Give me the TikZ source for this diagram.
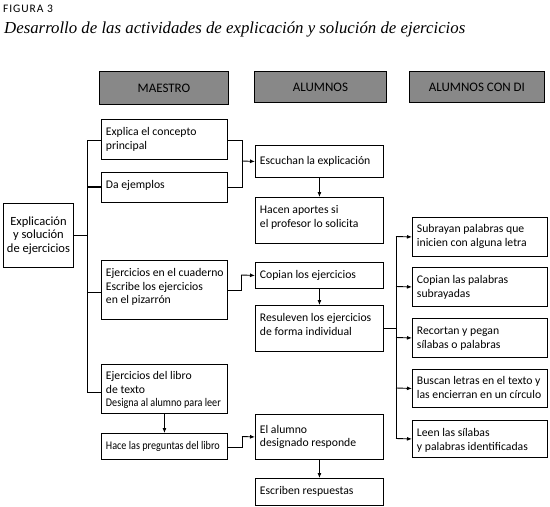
\documentclass[tikz,border=0pt]{standalone}
\usepackage{fontspec}
\usepackage{graphicx}
\setmainfont{Carlito}
\newfontfamily\titlefont{Liberation Serif}
\usetikzlibrary{arrows.meta}
\definecolor{hdrgray}{RGB}{136,136,136}
\newcommand\bt[4][16.5]{\parbox[c][#3pt][t]{#2pt}{\rule{0pt}{#1pt}\begin{tabular}[t]{@{}l@{}}#4\end{tabular}}}
\newcommand\sq[1]{\scalebox{0.87}[1]{#1}}
\tikzset{
  box/.style={draw, line width=0.9pt, anchor=north west, inner xsep=4.5pt, inner ysep=0pt,
    font=\fontsize{11.7}{13.5}\selectfont},
  hdr/.style={draw, line width=0.9pt, fill=hdrgray, anchor=north west, inner sep=0pt,
    font=\fontsize{13}{14}\selectfont},
  conn/.style={line width=0.9pt},
  arr/.style={line width=0.9pt, -{Latex[length=5pt,width=4pt]}}
}
\begin{document}
\begin{tikzpicture}[x=1pt,y=-1pt]
\useasboundingbox (0,0) rectangle (550,507);
% titles
\node[anchor=base west, inner sep=0pt, font=\fontsize{11.5}{13}\selectfont\addfontfeature{LetterSpace=8}] (fig) at (3,12.5) {FIGURA 3};
\node[anchor=base west, inner sep=0pt, font=\titlefont\itshape\fontsize{16.8}{18}\selectfont] (title) at (4,33.5) {Desarrollo de las actividades de explicación y solución de ejercicios};
% headers
\node[hdr, minimum width=129pt, minimum height=33pt] (h1) at (99,71) {MAESTRO};
\node[hdr, minimum width=132pt, minimum height=31pt] (h2) at (254,71) {ALUMNOS};
\node[hdr, minimum width=135pt, minimum height=31pt] (h3) at (409,71) {ALUMNOS CON DI};
% left
\node[draw, line width=0.9pt, anchor=north west, inner sep=0pt, minimum width=70pt, minimum height=64pt,
  align=center, font=\fontsize{12.5}{13.5}\selectfont] (left) at (3,203) {Explicación\\y solución\\de ejercicios};
% maestro column
\node[box] (explica) at (101,119) {\bt{117}{40}{Explica el concepto\\principal}};
\node[box] (daej) at (101,172) {\bt{117}{30}{Da ejemplos}};
\node[box] (cuad) at (101,260) {\bt{117}{59}{Ejercicios en el cuaderno\\Escribe los ejercicios\\en el pizarrón}};
\node[box] (libro) at (101,364) {\bt[15.5]{117}{49}{Ejercicios del libro\\de texto\\\sq{Designa al alumno para leer}}};
\node[box] (hace) at (101,433) {\bt{117}{26}{\sq{Hace las preguntas del libro}}};
% alumnos column
\node[box] (escuchan) at (255,145) {\bt[19]{119}{32}{Escuchan la explicación}};
\node[box] (hacen) at (255,197) {\bt{119}{46}{Hacen aportes si\\el profesor lo solicita}};
\node[box] (copian) at (255,262) {\bt[16]{119}{26}{Copian los ejercicios}};
\node[box] (resuelven) at (255,305) {\bt{119}{46}{Resuleven los ejercicios\\de forma individual}};
\node[box] (alumno) at (255,414) {\bt[19]{119}{45}{El alumno\\designado responde}};
\node[box] (escriben) at (255,478) {\bt{119}{27}{Escriben respuestas}};
% alumnos con DI column
\node[box] (sub) at (412,217) {\bt[15.5]{126}{39}{Subrayan palabras que\\inicien con alguna letra}};
\node[box] (cop2) at (412,267) {\bt{126}{39}{Copian las palabras\\subrayadas}};
\node[box] (rec) at (412,318) {\bt{126}{39}{Recortan y pegan\\sílabas o palabras}};
\node[box] (bus) at (412,369) {\bt[15.5]{126}{38}{Buscan letras en el texto y\\las encierran en un círculo}};
\node[box] (leen) at (412,420) {\bt{126}{37}{Leen las sílabas\\y palabras identificadas}};
% spine left
\coordinate (sp1) at (87,140);
\coordinate (sp4) at (87,392);
\draw[conn] (left.east) -- (left.east -| sp1);
\draw[conn] (sp1) -- (sp4);
\draw[conn] (sp1) -- (sp1 -| explica.west);
\draw[conn, line width=1.8pt] (87,187) -- (87,187 -| daej.west);
\draw[conn] (87,292) -- (87,292 -| cuad.west);
\draw[conn] (sp4) -- (sp4 -| libro.west);
% bracket to escuchan
\draw[conn] (explica.east |- 0,140) -- (242,140) -- (242,187) -- (daej.east |- 0,187);
\draw[arr] (242,161) -- (escuchan.west);
\draw[arr] (escuchan.south) -- (hacen.north);
% cuaderno to copian
\draw[conn] (cuad.east |- 0,290) -- (241,290) -- (241,275);
\draw[arr] (241,275) -- (copian.west);
\draw[arr] (copian.south) -- (resuelven.north);
% resuelven to DI
\coordinate (dt) at (396,236.5);
\coordinate (db) at (396,438.5);
\draw[conn] (resuelven.east |- 0,328) -- (396,328);
\draw[conn] (dt) -- (db);
\draw[arr] (dt) -- (sub.west);
\draw[arr] (396,286.5) -- (cop2.west);
\draw[arr] (396,337.5) -- (rec.west);
\draw[arr] (396,388) -- (bus.west);
\draw[arr] (db) -- (leen.west);
% libro to hace
\draw[arr] (libro.south) -- (hace.north);
\draw[conn] (hace.east |- 0,447) -- (242,447) -- (242,436.5);
\draw[arr] (242,436.5) -- (alumno.west);
\draw[arr] (alumno.south) -- (escriben.north);
\end{tikzpicture}
\end{document}
